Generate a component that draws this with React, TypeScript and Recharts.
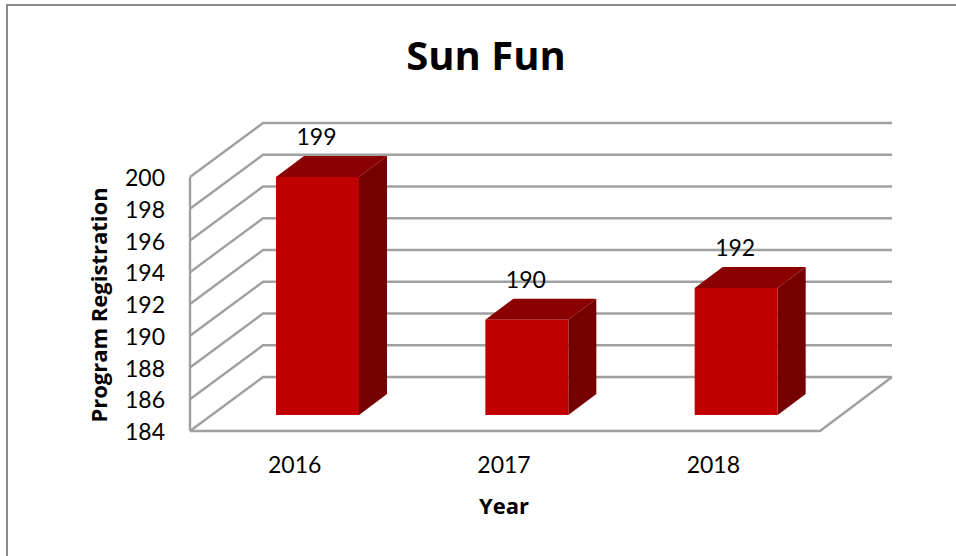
import React from 'react';
import { BarChart, Bar, XAxis, YAxis, CartesianGrid, LabelList } from 'recharts';

const years = ['2016', '2017', '2018'];
const registrations = [199, 190, 192];
const yTicks = [184, 186, 188, 190, 192, 194, 196, 198, 200];

const chartData = years.map((year, i) => ({ year, registrations: registrations[i] }));

const FONT = 'Lato, Carlito, Calibri, sans-serif';
const BOLD_FONT = '"Open Sans", Carlito, Calibri, sans-serif';
const GRID = '#a0a0a0';

// the bars stand in a plane set back from the front axis
const PLANE_DX = 23;
const PLANE_DY = 16;
// back wall relative to the front axis, and bar depth
const WALL_DX = 73;
const WALL_DY = -54;
const BAR_DX = 28;
const BAR_DY = -21;

const FRONT_X = 190;
const WALL_RIGHT = 892;
const FLOOR_RIGHT = 820;
const PLOT_TOP = 161;
const PLOT_BOTTOM = 415;

const WallLine = (props: any) => {
  const y = props.y1 + PLANE_DY;
  const isFloor = Math.abs(props.y1 - PLOT_BOTTOM) < 1;
  return (
    <g fill="none" stroke={GRID} strokeWidth={2.4}>
      <polyline points={`${FRONT_X},${y} ${FRONT_X + WALL_DX},${y + WALL_DY} ${WALL_RIGHT},${y + WALL_DY}`} />
      {isFloor && (
        <>
          <polyline points={`${FRONT_X},${y} ${FLOOR_RIGHT},${y} ${WALL_RIGHT},${y + WALL_DY}`} />
          <line x1={FRONT_X} y1={PLOT_TOP + PLANE_DY} x2={FRONT_X} y2={y} />
        </>
      )}
    </g>
  );
};

const Box3D = (props: any) => {
  const { x, y, width, height } = props;
  const r = x + width;
  const b = y + height;
  return (
    <g>
      <polygon
        points={`${x},${y} ${x + BAR_DX},${y + BAR_DY} ${r + BAR_DX},${y + BAR_DY} ${r},${y}`}
        fill="#8b0000"
      />
      <polygon
        points={`${r},${y} ${r + BAR_DX},${y + BAR_DY} ${r + BAR_DX},${b + BAR_DY} ${r},${b}`}
        fill="#760000"
      />
      <rect x={x} y={y} width={width} height={height} fill="#c00000" />
    </g>
  );
};

const YTick = (props: any) => (
  <text x={165} y={props.y + PLANE_DY} dy={9} textAnchor="end" fontFamily={FONT} fontSize={23} fill="#000">
    {props.payload.value}
  </text>
);

const XTick = (props: any) => (
  <text x={props.x - PLANE_DX} y={473} textAnchor="middle" fontFamily={FONT} fontSize={23} fill="#000">
    {props.payload.value}
  </text>
);

export default function App() {
  return (
    <div style={{ position: 'absolute', left: 0, top: 0, width: 956, height: 556, overflow: 'hidden', background: '#fff' }}>
      <div style={{ position: 'absolute', left: 6, top: 4, width: 950, height: 552, borderLeft: '2px solid #8c8c8c', borderTop: '2px solid #8c8c8c' }} />
      <div style={{ position: 'absolute', left: 0, top: 0 }}>
        <BarChart
          width={956}
          height={556}
          data={chartData}
          margin={{ top: PLOT_TOP, right: 115, bottom: 111, left: 153 }}
        >
          <CartesianGrid vertical={false} horizontal={WallLine} />
          <XAxis dataKey="year" height={30} axisLine={false} tickLine={false} tick={XTick} interval={0} />
          <YAxis
            width={60}
            domain={[184, 200]}
            ticks={yTicks}
            interval={0}
            axisLine={false}
            tickLine={false}
            tick={YTick}
          />
          <Bar dataKey="registrations" barSize={83} shape={Box3D} isAnimationActive={false}>
            <LabelList dataKey="registrations" position="top" offset={32} dx={-1} fontFamily={FONT} fontSize={23} fill="#000" />
          </Bar>
          <text x={486} y={70} textAnchor="middle" fontFamily={BOLD_FONT} fontWeight={700} fontSize={40} fill="#000">
            Sun Fun
          </text>
          <text x={504} y={514} textAnchor="middle" fontFamily={BOLD_FONT} fontWeight={700} fontSize={22} fill="#000">
            Year
          </text>
          <text
            transform="translate(107,305) rotate(-90)"
            textAnchor="middle"
            fontFamily={BOLD_FONT}
            fontWeight={700}
            fontSize={22}
            fill="#000"
          >
            Program Registration
          </text>
        </BarChart>
      </div>
    </div>
  );
}
